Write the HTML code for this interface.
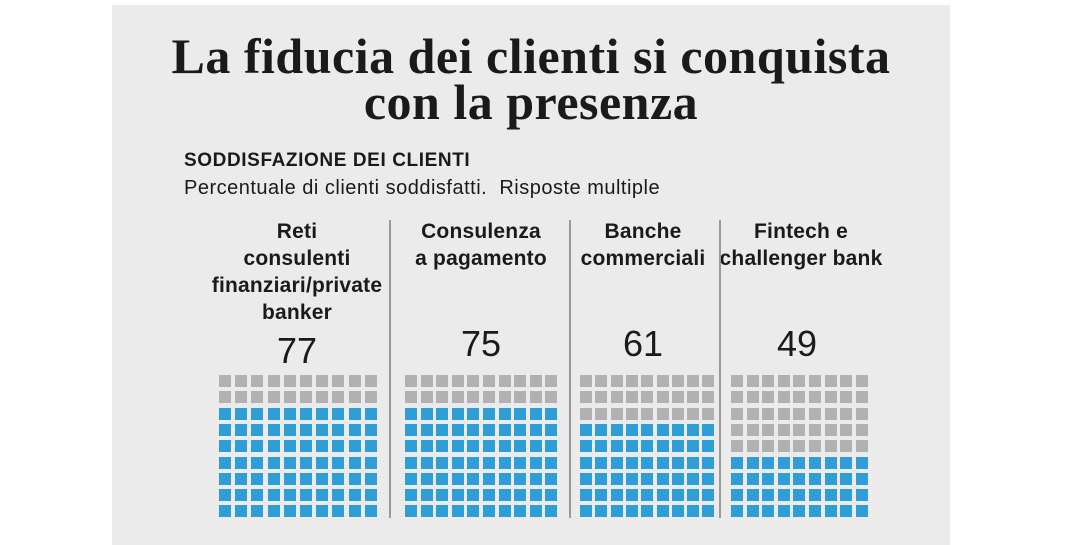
<!DOCTYPE html>
<html><head><meta charset="utf-8"><style>
body{margin:0;width:1080px;height:540px;background:#fff;position:relative;overflow:hidden;font-family:"Liberation Sans",sans-serif;}
#p{position:absolute;left:112px;top:5px;width:838px;height:540px;background:#ebebeb;}
.t{position:absolute;left:112px;width:838px;text-align:center;font-family:"Liberation Serif",serif;font-weight:bold;font-size:50px;letter-spacing:0.5px;color:#1a1a1a;line-height:46px;}
.a{position:absolute;color:#1a1a1a;white-space:nowrap;}
.l{position:absolute;text-align:center;font-weight:bold;font-size:21px;letter-spacing:0.2px;line-height:27px;color:#1a1a1a;transform:translateX(-50%);white-space:nowrap;}
.n{position:absolute;font-size:36px;color:#1a1a1a;transform:translateX(-50%);}
.d{position:absolute;top:220px;width:1.5px;height:298px;background:#999;}
.s{position:absolute;width:12px;height:12px;}
</style></head><body>
<div id="p"></div>
<div class="t" style="top:33px">La fiducia dei clienti si conquista</div>
<div class="t" style="top:79px">con la presenza</div>
<div class="a" style="left:184px;top:150px;font-size:19px;letter-spacing:0.6px;font-weight:bold">SODDISFAZIONE DEI CLIENTI</div>
<div class="a" style="left:184px;top:177px;font-size:20px;letter-spacing:0.5px">Percentuale di clienti soddisfatti.&nbsp; Risposte multiple</div>
<div class="l" style="left:297px;top:218px">Reti<br>consulenti<br>finanziari/private<br>banker</div>
<div class="l" style="left:481px;top:218px">Consulenza<br>a pagamento</div>
<div class="l" style="left:643px;top:218px">Banche<br>commerciali</div>
<div class="l" style="left:801px;top:218px">Fintech e<br>challenger bank</div>
<div class="n" style="left:297px;top:330px">77</div>
<div class="n" style="left:481px;top:323px">75</div>
<div class="n" style="left:643px;top:323px">61</div>
<div class="n" style="left:797px;top:323px">49</div>
<div class="d" style="left:389px"></div>
<div class="d" style="left:569px"></div>
<div class="d" style="left:719px"></div>
<div id="g"></div>
<script>
var G=[[219,10,16.2,2],[405,10,15.6,2],[580,9,15.3,3],[731,9,15.6,5]];
var h='';
G.forEach(function(g){for(var r=0;r<9;r++)for(var c=0;c<g[1];c++){
h+='<div class="s" style="left:'+(g[0]+c*g[2]).toFixed(1)+'px;top:'+(375+r*16.3).toFixed(1)+'px;background:'+(r<g[3]?'#b0b1b3':'#2f9dd6')+'"></div>';}});
document.getElementById('g').innerHTML=h;
</script>
</body></html>
